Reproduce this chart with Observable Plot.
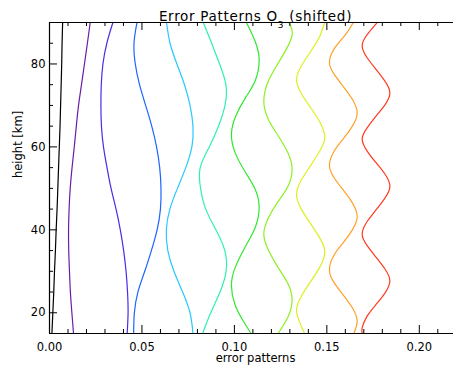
<!DOCTYPE html>
<html>
<head>
<meta charset="utf-8">
<script src="https://cdn.jsdelivr.net/npm/d3@7"></script>
<script src="https://cdn.jsdelivr.net/npm/@observablehq/plot@0.6"></script>
<style>
html, body { margin: 0; padding: 0; background: #fff; overflow: hidden; }
</style>
</head>
<body>
<div id="chart"></div>
<script>
// ---- data: [height km, error pattern value] ----
const pattern01 = [[90,.0071],[85,.0068],[80,.0066],[75,.0063],[70,.0060],[65,.0057],[60,.0053],[55,.0049],[50,.0045],[45,.0041],[40,.0036],[35,.0032],[30,.0027],[25,.0023],[20,.0018],[15,.0013]];
const pattern02 = [[90,.0220],[85,.0205],[80,.0189],[75,.0173],[70,.0157],[65,.0145],[60,.0134],[55,.0122],[50,.0112],[45,.0106],[40,.0103],[35,.0104],[30,.0108],[25,.0113],[20,.0121],[15,.0130]];
const pattern03 = [[90,.0343],[85,.0310],[80,.0289],[75,.0280],[70,.0278],[65,.0281],[60,.0292],[55,.0311],[50,.0333],[45,.0360],[40,.0383],[35,.0401],[30,.0414],[25,.0422],[20,.0425],[15,.0420]];
const pattern04 = [[90,.0473],[85,.0457],[80,.0464],[75,.0487],[70,.0520],[65,.0553],[60,.0579],[55,.0596],[50,.0603],[45,.0600],[40,.0582],[35,.0551],[30,.0515],[25,.0478],[20,.0459],[15,.0455]];
const pattern05 = [[90,.0633],[85,.0652],[80,.0689],[75,.0730],[70,.0760],[65,.0776],[60,.0770],[55,.0737],[50,.0692],[45,.0651],[40,.0632],[35,.0640],[30,.0673],[25,.0720],[20,.0760],[15,.0776]];
const pattern06 = [[90,.0832],[85,.0877],[80,.0920],[75,.0954],[70,.0949],[65,.0914],[60,.0864],[55,.0815],[50,.0817],[45,.0845],[40,.0900],[35,.0948],[30,.0955],[25,.0922],[20,.0872],[15,.0828]];
const pattern07 = [[90,.1065],[85.5,.1112],[81,.1134],[76,.1113],[72,.1062],[67.5,.1008],[63,.0984],[58.5,.1005],[54,.1058],[50,.1110],[45.5,.1134],[40.5,.1112],[36,.1060],[31,.1005],[26.6,.0984],[22,.1003],[18,.1048],[15,.1090]];
const pattern08 = [[90,.1294],[86.5,.1310],[80.8,.1245],[76,.1185],[71,.1159],[66.5,.1185],[62.8,.1235],[58.5,.1290],[54.6,.1312],[50.5,.1290],[46.8,.1236],[43,.1185],[39,.1159],[35,.1185],[31,.1235],[27,.1290],[23,.1312],[19,.1290],[15,.1236]];
const pattern09 = [[90,.1487],[86.5,.1460],[83,.1412],[79.5,.1362],[76.3,.1336],[73,.1360],[69.5,.1412],[66,.1462],[62.3,.1489],[59,.1462],[55.5,.1412],[52,.1362],[48.5,.1336],[45,.1362],[41.5,.1412],[38,.1462],[34.6,.1489],[31,.1462],[27.5,.1412],[24,.1362],[20.6,.1336],[17.5,.1355],[15,.1379]];
const pattern10 = [[90,.1643],[87,.1600],[84,.1545],[80.5,.1514],[77.5,.1540],[74.5,.1590],[71.5,.1638],[68.2,.1664],[65,.1638],[62,.1590],[59,.1540],[55.5,.1514],[52.5,.1540],[49.5,.1590],[46.5,.1638],[43.2,.1664],[40,.1638],[37,.1590],[34,.1540],[30.4,.1514],[27.2,.1540],[24.2,.1590],[21.2,.1638],[18,.1664],[15,.1646]];
const pattern11 = [[90,.1772],[87.2,.1720],[84.4,.1691],[81.5,.1718],[78.7,.1766],[75.8,.1815],[73,.1841],[70.2,.1815],[67.4,.1766],[64.6,.1718],[61.9,.1691],[59,.1718],[56.2,.1766],[53.4,.1815],[50.5,.1841],[47.7,.1815],[44.8,.1766],[42,.1718],[39,.1691],[36.2,.1718],[33.4,.1766],[30.5,.1815],[27.7,.1841],[24.8,.1815],[22,.1766],[19.2,.1718],[16.4,.1691],[15,.1692]];

const patterns = [pattern01, pattern02, pattern03, pattern04, pattern05, pattern06,
                  pattern07, pattern08, pattern09, pattern10, pattern11];
const patternColors = ["#000000", "#6b1ca8", "#5028e8", "#1e64ff", "#28c8ff", "#2ef0b4",
                       "#30e830", "#8cf020", "#dcf020", "#ffa028", "#ff3a20"];

const xMajorTicks = [0, 0.05, 0.10, 0.15, 0.20];
const xMinorTicks = [0.01, 0.02, 0.03, 0.04, 0.06, 0.07, 0.08, 0.09, 0.11, 0.12, 0.13, 0.14, 0.16, 0.17, 0.18, 0.19, 0.21];
const yMajorTicks = [20, 40, 60, 80];
const yMinorTicks = [25, 30, 35, 45, 50, 55, 65, 70, 75, 85];
const xDomain = [0, 0.2185];
const yDomain = [15, 90];

const titleMain = "Error Patterns O";
const titleSub = "3";
const titleTail = " (shifted)";
const xLabel = "error patterns";
const yLabel = "height [km]";

// ---- layout ----
const W = 454, H = 371;
const mL = 49, mR = 1, mT = 22, mB = 38;
const plotW = W - mL - mR, plotH = H - mT - mB;
const majorLen = 8, minorLen = 4;

const marks = [
  ...patterns.map((p, i) => Plot.line(p, {
    x: d => d[1], y: d => d[0], stroke: patternColors[i], strokeWidth: 1.2, curve: "natural"
  })),
  // frame lines
  Plot.ruleX([xDomain[0]], {stroke: "#000", strokeWidth: 1.2}),
  Plot.ruleY(yDomain, {stroke: "#000", strokeWidth: 1.2}),
  // inward ticks bottom / top
  Plot.tickX(xMajorTicks, {x: d => d, insetTop: plotH - majorLen, stroke: "#000"}),
  Plot.tickX(xMinorTicks, {x: d => d, insetTop: plotH - minorLen, stroke: "#000"}),
  Plot.tickX(xMajorTicks, {x: d => d, insetBottom: plotH - majorLen, stroke: "#000"}),
  Plot.tickX(xMinorTicks, {x: d => d, insetBottom: plotH - minorLen, stroke: "#000"}),
  // inward ticks left
  Plot.tickY(yMajorTicks, {y: d => d, insetRight: plotW - majorLen, stroke: "#000"}),
  Plot.tickY(yMinorTicks, {y: d => d, insetRight: plotW - minorLen, stroke: "#000"}),
  // tick labels
  Plot.axisX({ticks: xMajorTicks, tickSize: 0, tickPadding: 9, tickFormat: d3.format(".2f"), label: null}),
  Plot.axisY({ticks: yMajorTicks, tickSize: 0, tickPadding: 4, label: null}),
  // axis titles
  Plot.text([xLabel], {frameAnchor: "bottom", dy: 28, dx: 4, fontSize: 11.5}),
  Plot.text([yLabel], {frameAnchor: "left", rotate: -90, dx: -31, fontSize: 11.5}),
  Plot.text([titleMain + titleSub + titleTail], {frameAnchor: "top", dy: -11, dx: 4, fontSize: 13.5})
];

const chart = Plot.plot({
  width: W, height: H,
  marginLeft: mL, marginRight: mR, marginTop: mT, marginBottom: mB,
  x: {domain: xDomain},
  y: {domain: yDomain},
  style: {fontFamily: "DejaVu Sans", fontSize: "11.5px", color: "#000", background: "#fff", overflow: "visible"},
  marks
});

// subscript in the title
d3.select(chart).selectAll("text").each(function() {
  if (this.textContent === titleMain + titleSub + titleTail) {
    const t = d3.select(this);
    t.text(null).attr("letter-spacing", "0.7");
    t.append("tspan").text(titleMain);
    t.append("tspan").attr("font-size", 9).attr("dy", 6.5).text(titleSub);
    t.append("tspan").attr("dy", -6.5).text(titleTail);
  }
});

document.getElementById("chart").appendChild(chart);
</script>
</body>
</html>
